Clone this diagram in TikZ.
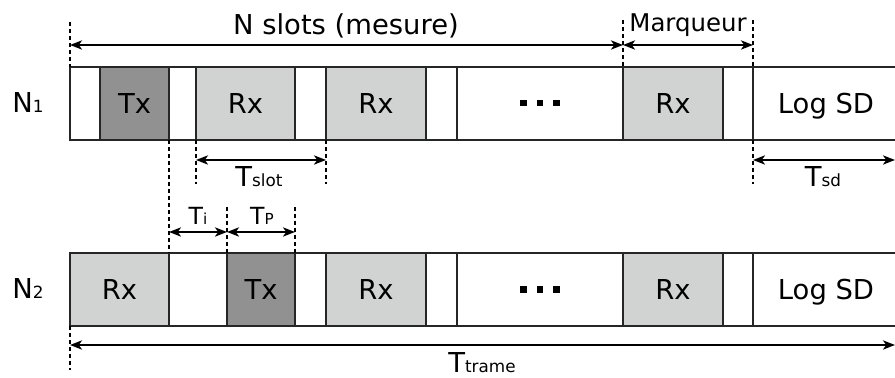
\documentclass[tikz,border=0pt]{standalone}
\usepackage{fontspec}
\setmainfont{DejaVu Sans}
\usetikzlibrary{arrows.meta}
\definecolor{txgray}{HTML}{919191}
\definecolor{rxgray}{HTML}{D1D3D2}
\newcommand{\bigfs}{\fontsize{13.7}{16}\selectfont}
\newcommand{\smallfs}{\fontsize{8.4}{10}\selectfont}
\newcommand{\midfs}{\fontsize{11.8}{14}\selectfont}
\newcommand{\tinyfs}{\fontsize{7.6}{9}\selectfont}
\begin{document}
\begin{tikzpicture}[x=0.5pt,y=-0.5pt,
  cellline/.style={line width=1.1pt, draw=black!85},
  lbl/.style={anchor=base, inner sep=0pt, font=\bigfs},
  dim/.style={line width=1pt, {Stealth[length=6pt,width=4.6pt,inset=1.6pt]}-{Stealth[length=6pt,width=4.6pt,inset=1.6pt]}},
  guide/.style={line width=0.6pt, dash pattern=on 2.2pt off 1.3pt},
  dotsq/.style={fill=black, draw=none}]
\useasboundingbox (0,0) rectangle (895,378);
% ---------- row 1 ----------
\foreach \a/\b/\f in {70/100/white,100/169/txgray,169/196/white,196/295/rxgray,295/326/white,326/426/rxgray,426/457/white,457/623/white,623/723/rxgray,723/753/white}
  \draw[cellline, fill=\f] (\a,67) rectangle (\b,140);
\draw[cellline] (895,67) -- (753,67) -- (753,140) -- (895,140);
% ---------- row 2 ----------
\foreach \a/\b/\f in {70/169/rxgray,169/227/white,227/295/txgray,295/326/white,326/426/rxgray,426/457/white,457/623/white,623/723/rxgray,723/753/white}
  \draw[cellline, fill=\f] (\a,253) rectangle (\b,326);
\draw[cellline] (895,253) -- (753,253) -- (753,326) -- (895,326);
% ---------- cell texts ----------
\node[lbl] (n1) at (28,113) {N\smallfs 1};
\node[lbl] (n2) at (28,299) {N\smallfs 2};
\node[lbl] (t1a) at (134.5,114) {Tx};
\node[lbl] (r1a) at (245.5,114) {Rx};
\node[lbl] (r1b) at (376,114) {Rx};
\node[lbl] (r1c) at (673,114) {Rx};
\node[lbl] (l1) at (826,114) {Log SD};
\node[lbl] (r2a) at (119.5,300) {Rx};
\node[lbl] (t2a) at (261,300) {Tx};
\node[lbl] (r2b) at (376,300) {Rx};
\node[lbl] (r2c) at (673,300) {Rx};
\node[lbl] (l2) at (826,300) {Log SD};
\foreach \x in {523.5,540,556.5} {
  \fill (\x-3.3,100) rectangle (\x+3.3,106.5);
  \fill (\x-3.3,286.5) rectangle (\x+3.3,293);
}
% ---------- guide coordinates ----------
\coordinate (g70a) at (70,22);   \coordinate (g70b) at (70,67);
\coordinate (g70c) at (70,326);  \coordinate (g70d) at (70,370);
\coordinate (g169a) at (169,140); \coordinate (g169b) at (169,253);
\coordinate (g196a) at (196,140); \coordinate (g196b) at (196,184);
\coordinate (g326a) at (326,140); \coordinate (g326b) at (326,184);
\coordinate (g227a) at (227,207); \coordinate (g227b) at (227,253);
\coordinate (g295a) at (295,207); \coordinate (g295b) at (295,253);
\coordinate (g623a) at (623,20); \coordinate (g623b) at (623,67);
\coordinate (g753a) at (753,20); \coordinate (g753b) at (753,67);
\coordinate (g753c) at (753,140); \coordinate (g753d) at (753,184);
\foreach \p/\q in {g70a/g70b,g70c/g70d,g169a/g169b,g196a/g196b,g326a/g326b,g227a/g227b,g295a/g295b,g623a/g623b,g753a/g753b,g753c/g753d}
  \draw[guide] (\p) -- (\q);
% ---------- dimension arrows ----------
\coordinate (aN1) at (70,45);  \coordinate (aN2) at (623,45);
\coordinate (aM2) at (753,45);
\coordinate (aS1) at (196,160); \coordinate (aS2) at (326,160);
\coordinate (aD1) at (753,160); \coordinate (aD2) at (895,160);
\coordinate (aI1) at (169,232); \coordinate (aI2) at (227,232);
\coordinate (aP2) at (295,232);
\coordinate (aT1) at (70,345); \coordinate (aT2) at (895,345);
\draw[dim] (aN1) -- (aN2);
\draw[dim] (aN2) -- (aM2);
\draw[dim] (aS1) -- (aS2);
\draw[dim] (aD1) -- (aD2);
\draw[dim] (aI1) -- (aI2);
\draw[dim] (aI2) -- (aP2);
\draw[dim] (aT1) -- (aT2);
% ---------- dimension labels ----------
\node[lbl] (lN) at (346,35) {N slots (mesure)};
\node[lbl, font=\fontsize{12.2}{14}\selectfont] (lM) at (688,32) {Marqueur};
\node[lbl] (lS) at (259,187) {T\smallfs slot};
\node[lbl] (lD) at (823,187) {T\smallfs sd};
\node[lbl, font=\midfs] (lI) at (198,225) {T\tinyfs i};
\node[lbl, font=\midfs] (lP) at (262,225) {T\tinyfs P};
\node[lbl] (lT) at (482,373) {T\smallfs trame};
\end{tikzpicture}
\end{document}
